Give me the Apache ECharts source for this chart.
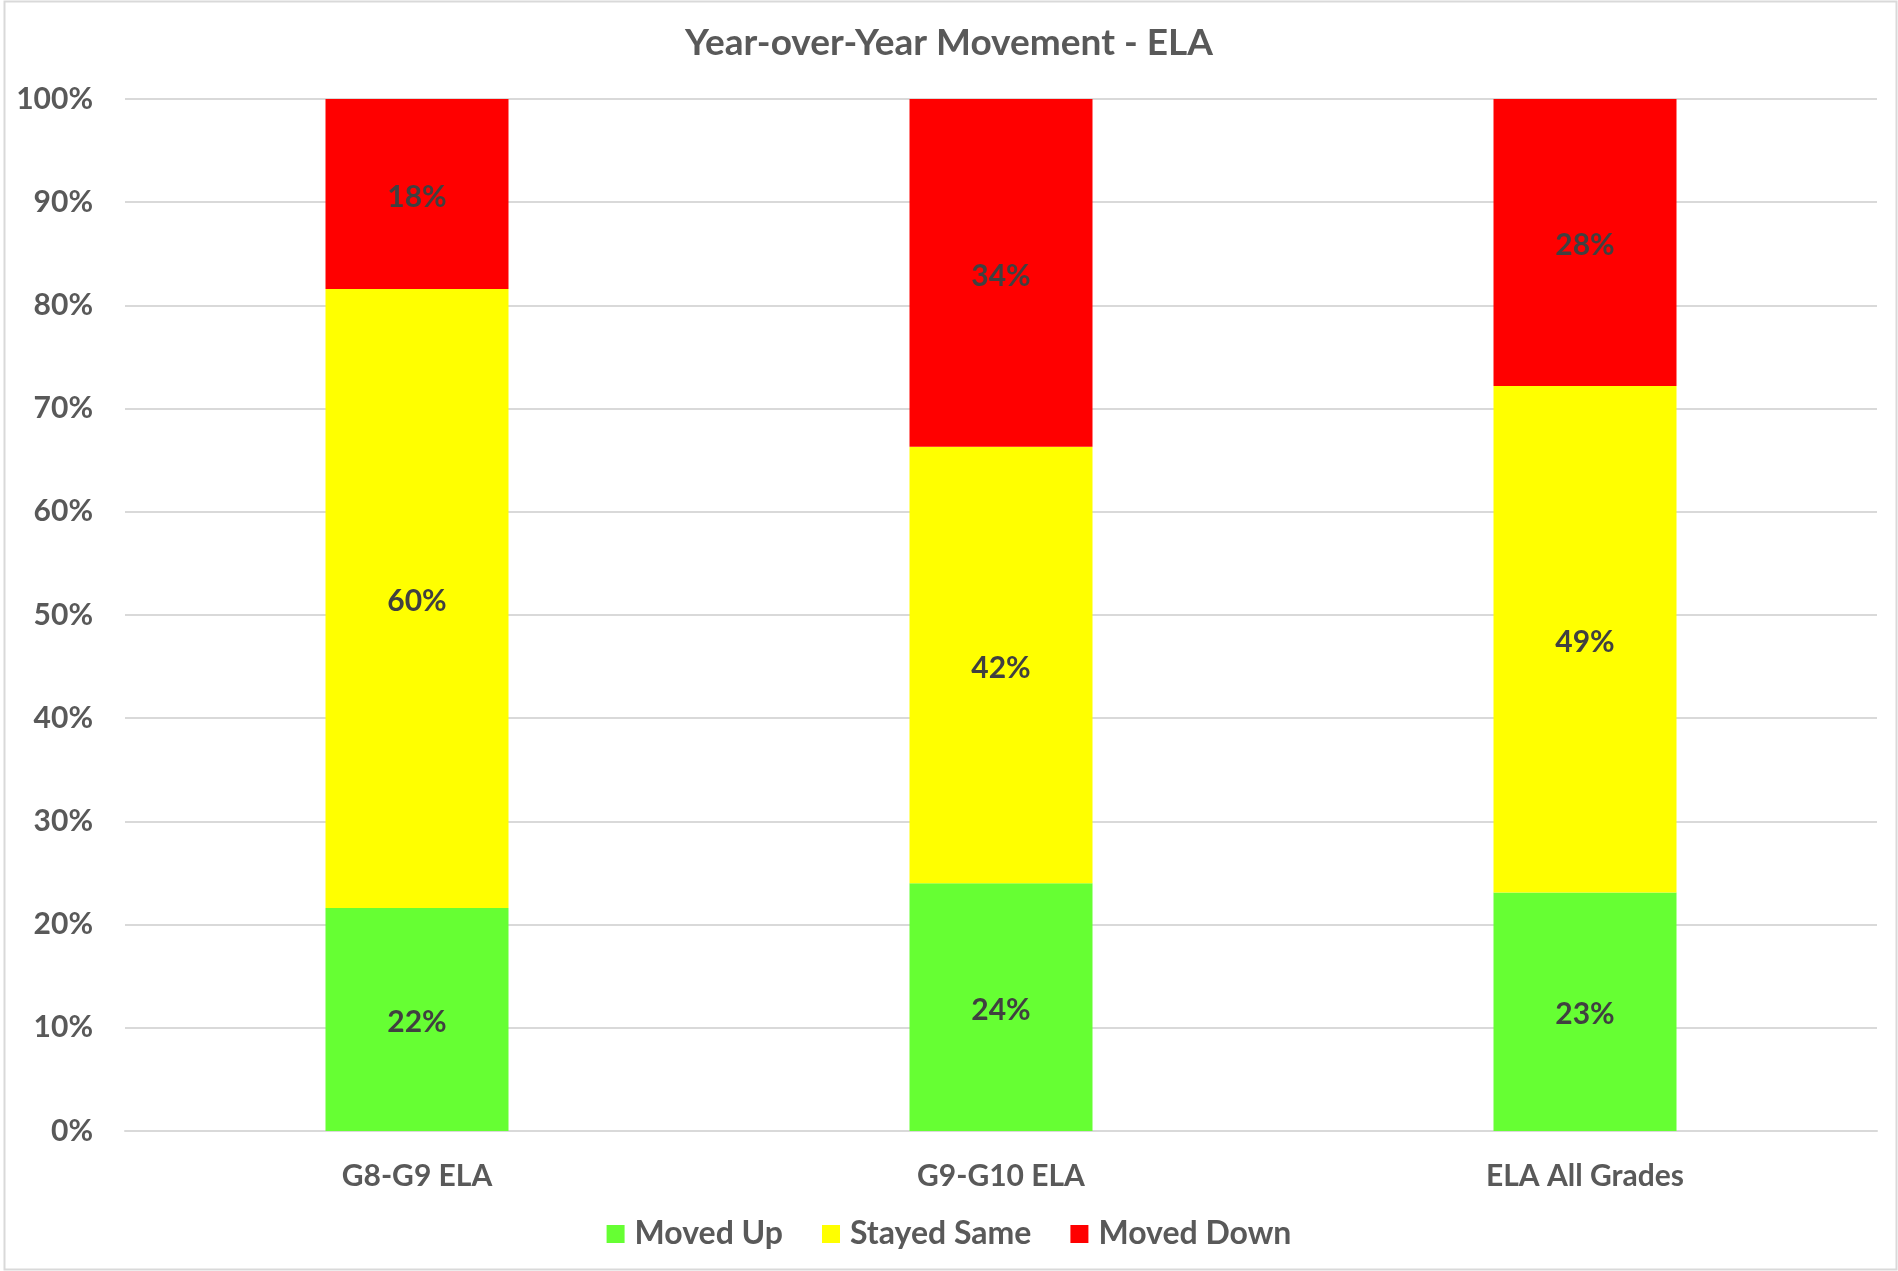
<!DOCTYPE html>
<html>
<head>
<meta charset="utf-8">
<title>Year-over-Year Movement - ELA</title>
<script src="https://cdn.jsdelivr.net/npm/echarts@6/dist/echarts.min.js"></script>
<style>
    html, body { margin: 0; padding: 0; background: #fff; }
    #chart { width: 1898px; height: 1271px; }
</style>
</head>
<body>
<div id="chart"></div>
<script>
const categories = ["G8-G9 ELA", "G9-G10 ELA", "ELA All Grades"];
const movedUp = [21.6, 24.0, 23.1];
const stayedSame = [60.0, 42.3, 49.1];
const movedDown = [18.4, 33.7, 27.8];

const font = "Lato, 'Open Sans', sans-serif";

function makeSeries(name, data, color) {
    return {
        name,
        type: "bar",
        stack: "total",
        data,
        barWidth: 183,
        itemStyle: { color },
        label: {
            show: true,
            position: "inside",
            offset: [0, 3],
            formatter: (p) => Math.round(p.value) + "%",
            color: "#404040",
            fontFamily: font,
            fontWeight: "bold",
            fontSize: 30
        },
        emphasis: { disabled: true }
    };
}

const chart = echarts.init(document.getElementById("chart"));

chart.setOption({
    animation: false,
    backgroundColor: "#fff",
    title: {
        text: "Year-over-Year Movement - ELA",
        left: "center",
        top: 20,
        textStyle: {
            color: "#595959",
            fontFamily: font,
            fontWeight: "bold",
            fontSize: 37
        }
    },
    legend: {
        bottom: 16,
        left: "center",
        itemWidth: 18,
        itemHeight: 18,
        itemGap: 39,
        icon: "rect",
        textStyle: {
            color: "#595959",
            fontFamily: font,
            fontWeight: "bold",
            fontSize: 32,
            padding: [0, 0, 0, 5]
        },
        data: ["Moved Up", "Stayed Same", "Moved Down"]
    },
    grid: {
        left: 125,
        right: 21,
        top: 99,
        bottom: 140,
        containLabel: false
    },
    xAxis: {
        type: "category",
        data: categories,
        axisLine: { show: true, lineStyle: { color: "#d9d9d9", width: 2 } },
        axisTick: { show: false },
        axisLabel: {
            color: "#595959",
            fontFamily: font,
            fontWeight: "bold",
            fontSize: 30,
            margin: 30
        }
    },
    yAxis: {
        type: "value",
        min: 0,
        max: 100,
        interval: 10,
        axisLine: { show: false },
        axisTick: { show: false },
        splitLine: { lineStyle: { color: "#d9d9d9", width: 2 } },
        axisLabel: {
            formatter: "{value}%",
            color: "#595959",
            fontFamily: font,
            fontWeight: "bold",
            fontSize: 30,
            margin: 32
        }
    },
    graphic: [{
        type: "rect",
        shape: { x: 4.5, y: 1.5, width: 1892, height: 1268 },
        style: { fill: "none", stroke: "#d9d9d9", lineWidth: 2 },
        silent: true,
        z: 100
    }],
    series: [
        makeSeries("Moved Up", movedUp, "#66ff33"),
        makeSeries("Stayed Same", stayedSame, "#ffff00"),
        makeSeries("Moved Down", movedDown, "#ff0000")
    ]
});
</script>
</body>
</html>
